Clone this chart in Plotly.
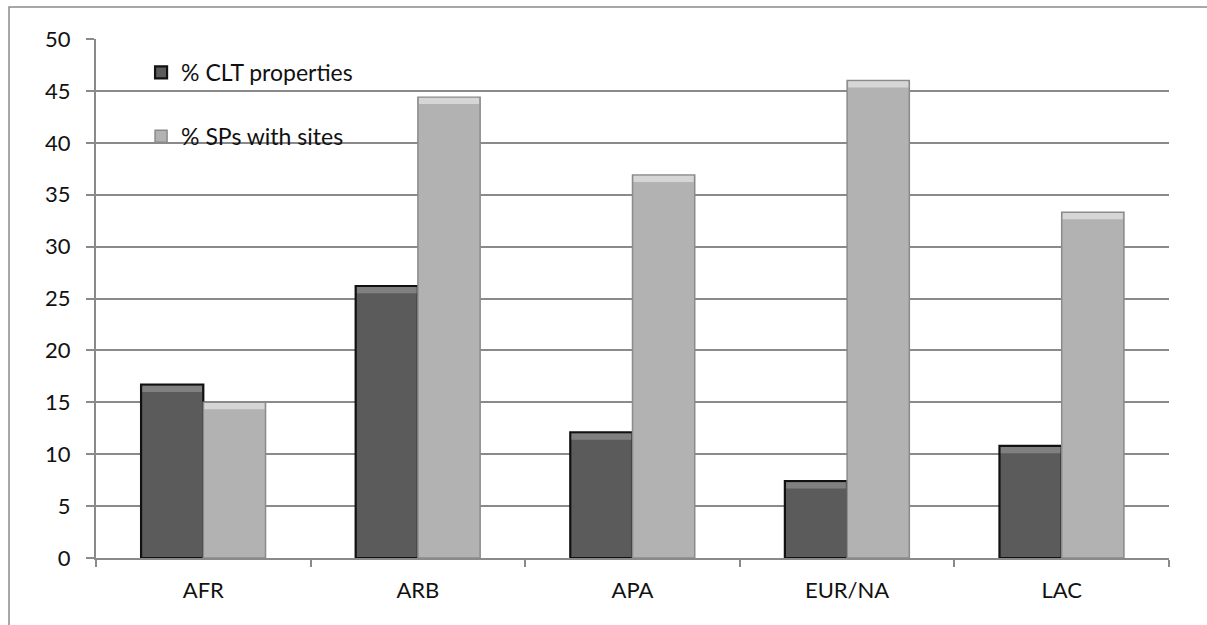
import plotly.graph_objects as go

# Regions and shares (%)
regions = ["AFR", "ARB", "APA", "EUR/NA", "LAC"]
clt_properties = [16.7, 26.2, 12.1, 7.4, 10.8]
sps_with_sites = [15.0, 44.4, 36.9, 46.0, 33.3]
y_ticks = [0, 5, 10, 15, 20, 25, 30, 35, 40, 45, 50]

FONT = "Lato"
BAR_W = 0.29
BEVEL = 0.6  # height of the highlighted top edge, in axis units

fig = go.Figure()

fig.add_trace(go.Bar(
    x=regions, y=clt_properties, name="% CLT properties",
    width=BAR_W, offset=-BAR_W,
    marker=dict(color="#5b5b5b", line=dict(color="#111111", width=2.2)),
    legendgroup="a",
))
fig.add_trace(go.Bar(
    x=regions, y=sps_with_sites, name="% SPs with sites",
    width=BAR_W, offset=0,
    marker=dict(color="#b2b2b2", line=dict(color="#8a8a8a", width=1.5)),
    legendgroup="b",
))

# bevelled top edge of each bar
fig.add_trace(go.Bar(
    x=regions, y=[BEVEL] * len(regions),
    base=[v - BEVEL - 0.1 for v in clt_properties],
    width=BAR_W - 0.012, offset=-BAR_W + 0.006,
    marker=dict(color="#808080", line=dict(width=0)),
    showlegend=False, hoverinfo="skip",
))
fig.add_trace(go.Bar(
    x=regions, y=[BEVEL] * len(regions),
    base=[v - BEVEL - 0.07 for v in sps_with_sites],
    width=BAR_W - 0.01, offset=0.005,
    marker=dict(color="#d6d6d6", line=dict(width=0)),
    showlegend=False, hoverinfo="skip",
))

fig.update_layout(
    width=1207, height=625,
    margin=dict(l=96, r=38, t=39, b=67),
    barmode="overlay",
    paper_bgcolor="white", plot_bgcolor="white",
    font=dict(family=FONT, size=22, color="#111111"),
    showlegend=True,
    legend=dict(
        x=0.042, y=0.977, xanchor="left", yanchor="top",
        bgcolor="rgba(0,0,0,0)", borderwidth=0,
        tracegroupgap=31, traceorder="grouped",
        font=dict(family=FONT, size=23, color="#111111"),
    ),
    xaxis=dict(
        type="category", categoryorder="array", categoryarray=regions,
        range=[-0.5, 4.5],
        showline=True, linecolor="#8a8a8a", linewidth=2,
        ticks="outside", tickson="boundaries", ticklen=7,
        tickcolor="#8a8a8a", tickwidth=2,
        showgrid=False, ticklabelstandoff=12,
        tickfont=dict(family=FONT, size=22),
    ),
    yaxis=dict(
        range=[0, 50], tickvals=y_ticks,
        showline=True, linecolor="#8a8a8a", linewidth=2,
        ticks="outside", ticklen=8, tickcolor="#8a8a8a", tickwidth=2,
        showgrid=True, gridcolor="#8a8a8a", gridwidth=1.5,
        zeroline=False, ticklabelstandoff=11,
        tickfont=dict(family=FONT, size=22),
    ),
    shapes=[
        # panel behind the legend hides the gridlines there
        dict(type="rect", xref="paper", yref="paper",
             x0=(118 - 96) / 1073, x1=(400 - 96) / 1073,
             y0=(558 - 180) / 519, y1=(558 - 55) / 519,
             fillcolor="white", line=dict(width=0), layer="between"),
        # outer chart frame
        dict(type="rect", xref="paper", yref="paper",
             x0=(9 - 96) / 1073, x1=(1215 - 96) / 1073,
             y0=(558 - 640) / 519, y1=(558 - 7) / 519,
             fillcolor="rgba(0,0,0,0)", line=dict(color="#8a8a8a", width=1.5),
             layer="above"),
    ],
)

fig.write_html("out.html")
